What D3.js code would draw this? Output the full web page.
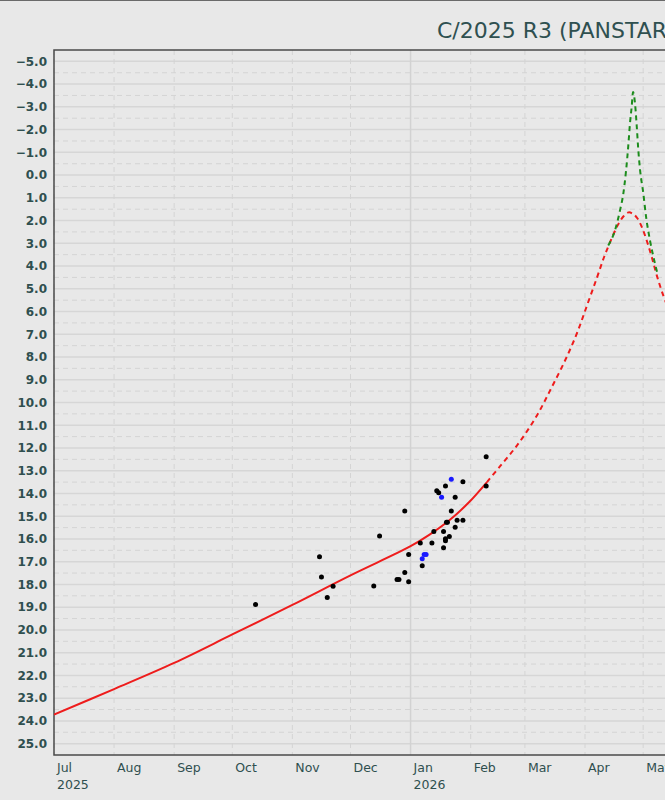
<!DOCTYPE html>
<html>
<head>
<meta charset="utf-8">
<script src="https://cdn.jsdelivr.net/npm/d3@7"></script>
<style>
  html, body { margin: 0; padding: 0; background: #e8e8e8; }
  svg { display: block; }
</style>
</head>
<body>
<script>
// ---------- DATA ----------
const title = "C/2025 R3 (PANSTARRS)";

const magTicks = [-5,-4,-3,-2,-1,0,1,2,3,4,5,6,7,8,9,10,11,12,13,14,15,16,17,18,19,20,21,22,23,24,25];
const magHalfTicks = [-4.5,-3.5,-2.5,-1.5,-0.5,0.5,1.5,2.5,3.5,4.5,5.5,6.5,7.5,8.5,9.5,10.5,11.5,12.5,13.5,14.5,15.5,16.5,17.5,18.5,19.5,20.5,21.5,22.5,23.5,24.5];
const monthTicks = ["2025-07-01","2025-08-01","2025-09-01","2025-10-01","2025-11-01","2025-12-01",
                    "2026-01-01","2026-02-01","2026-03-01","2026-04-01","2026-05-01","2026-06-01"];
const yearTicks = ["2025-07-01","2026-01-01"];

// predicted magnitude, observed period (solid red)
const predSolidDates = ["2025-07-01","2025-08-01","2025-09-01","2025-10-01","2025-11-01","2025-12-01",
  "2026-01-01","2026-01-11","2026-01-21","2026-01-31","2026-02-09T10"];
const predSolidMags = [23.72,22.6,21.45,20.2,18.9,17.6,16.32,15.8,15.18,14.4,13.5];

// predicted magnitude, future (dashed red)
const predFutureDates = ["2026-02-09T10","2026-02-16","2026-02-23","2026-03-01","2026-03-08","2026-03-15",
  "2026-03-22","2026-03-28","2026-04-02","2026-04-07","2026-04-11","2026-04-15","2026-04-18","2026-04-21",
  "2026-04-23T12","2026-04-26","2026-04-28","2026-04-30T12","2026-05-03","2026-05-05T12","2026-05-08",
  "2026-05-11","2026-05-15"];
const predFutureMags = [13.5,12.82,12.1,11.4,10.45,9.3,8.1,6.92,5.74,4.55,3.57,2.74,2.19,1.8,
  1.64,1.72,1.9,2.32,2.92,3.62,4.4,5.2,6.1];

// forward-scattering enhanced prediction (dashed green)
const fwdDates = ["2026-04-13","2026-04-16T12","2026-04-19T02","2026-04-20T19","2026-04-22T05","2026-04-23T07",
  "2026-04-24T05","2026-04-25T02","2026-04-25T19","2026-04-26T19","2026-04-27T17","2026-04-28T12",
  "2026-04-29T10","2026-05-01T02","2026-05-02T12","2026-05-04T12","2026-05-07T02","2026-05-08T07"];
const fwdMags = [3.1,2.42,1.54,0.8,-0.22,-1.25,-2.28,-3.01,-3.65,-3.16,-2.13,-1.1,-0.22,0.8,1.83,2.86,3.88,4.3];

// observations (black)
const obsDates = ["2025-10-13","2025-11-15","2025-11-16","2025-11-19","2025-11-22","2025-12-13","2025-12-16",
  "2025-12-25","2025-12-26","2025-12-29","2025-12-29","2025-12-31","2025-12-31","2026-01-06","2026-01-07",
  "2026-01-12","2026-01-13","2026-01-14T12","2026-01-15T12","2026-01-18","2026-01-18","2026-01-19","2026-01-19",
  "2026-01-19","2026-01-19T12","2026-01-20","2026-01-21","2026-01-22","2026-01-24","2026-01-24","2026-01-25",
  "2026-01-28","2026-01-28","2026-02-09","2026-02-09"];
const obsMags = [18.88,16.78,17.67,18.57,18.08,18.07,15.87,17.78,17.78,14.77,17.47,16.68,17.88,16.18,17.18,
  16.18,15.67,13.88,13.97,15.67,16.39,16.08,15.99,13.67,15.27,15.27,15.89,14.77,15.49,14.17,15.18,
  13.48,15.18,13.67,12.38];

// observations (blue)
const obsBlueDates = ["2026-01-22","2026-01-17","2026-01-08","2026-01-09","2026-01-07"];
const obsBlueMags = [13.38,14.17,16.68,16.68,16.87];

// ---------- RENDER ----------
const W = 665, H = 800;
const plotL = 54, plotT = 50, plotB = 755;
const pxPerDay = 1.938;

const parseD = s => s.length > 10 ? d3.utcParse("%Y-%m-%dT%H")(s) : d3.utcParse("%Y-%m-%d")(s);
const x0 = parseD("2025-07-01"), x1 = parseD("2026-07-01");
const nDays = (x1 - x0) / 864e5;
const x = d3.scaleUtc().domain([x0, x1]).range([plotL, plotL + nDays * pxPerDay]);
const y = d3.scaleLinear().domain([-5.5, 25.5]).range([plotT, plotB]);
const plotR = x.range()[1];

const svg = d3.select("body").append("svg").attr("width", W).attr("height", H)
  .style("font-family", "'DejaVu Sans', Verdana, sans-serif");

svg.append("rect").attr("width", W).attr("height", H).attr("fill", "#e8e8e8");
svg.append("line").attr("x1", 0).attr("x2", W).attr("y1", 0.5).attr("y2", 0.5)
  .attr("stroke", "#6a6a6a").attr("stroke-width", 1);

svg.append("defs").append("clipPath").attr("id", "clip")
  .append("rect").attr("x", plotL).attr("y", plotT).attr("width", plotR - plotL).attr("height", plotB - plotT);

const grid = svg.append("g");
grid.selectAll("line.hh").data(magHalfTicks).join("line")
  .attr("x1", plotL).attr("x2", plotR).attr("y1", d => y(d)).attr("y2", d => y(d))
  .attr("stroke", "#d4d4d4").attr("stroke-width", 1).attr("stroke-dasharray", "5,4");
grid.selectAll("line.hi").data(magTicks).join("line")
  .attr("x1", plotL).attr("x2", plotR).attr("y1", d => y(d)).attr("y2", d => y(d))
  .attr("stroke", "#d6d6d6").attr("stroke-width", 1.5);
grid.selectAll("line.v").data(monthTicks.map(parseD)).join("line")
  .attr("x1", d => x(d)).attr("x2", d => x(d)).attr("y1", plotT).attr("y2", plotB)
  .attr("stroke", d => d.getUTCMonth() === 0 ? "#d2d2d2" : "#d4d4d4")
  .attr("stroke-width", d => d.getUTCMonth() === 0 ? 1.5 : 1)
  .attr("stroke-dasharray", d => d.getUTCMonth() === 0 ? null : "5,4");

svg.append("rect").attr("x", plotL).attr("y", plotT).attr("width", plotR - plotL).attr("height", plotB - plotT)
  .attr("fill", "none").attr("stroke", "#4a4a4a").attr("stroke-width", 1.5);

svg.append("g").selectAll("text").data(magTicks).join("text")
  .attr("x", 47).attr("y", d => y(d)).attr("dy", "0.36em")
  .attr("text-anchor", "end").attr("fill", "#2f4f4f")
  .attr("font-size", 12).attr("font-weight", "bold")
  .text(d => d3.format(".1f")(d));

const fmtMonth = d3.utcFormat("%b");
svg.append("g").selectAll("text").data(monthTicks.map(parseD)).join("text")
  .attr("x", d => x(d) + 3).attr("y", 772)
  .attr("fill", "#2f4f4f").attr("font-size", 12.5)
  .text(d => fmtMonth(d));
svg.append("g").selectAll("text").data(yearTicks.map(parseD)).join("text")
  .attr("x", d => x(d) + 3).attr("y", 789)
  .attr("fill", "#2f4f4f").attr("font-size", 12.5)
  .text(d => d3.utcFormat("%Y")(d));

svg.append("text").attr("x", 437).attr("y", 38)
  .attr("fill", "#2f5050").attr("font-size", 22).text(title);

const plot = svg.append("g").attr("clip-path", "url(#clip)");
const lineSmooth = d3.line().x(d => x(d[0])).y(d => y(d[1])).curve(d3.curveCatmullRom.alpha(0.5));
const lineMono = d3.line().x(d => x(d[0])).y(d => y(d[1])).curve(d3.curveMonotoneX);
const zipS = (ds, ms) => ds.map((d, i) => [parseD(d), ms[i]]);

plot.append("path").datum(zipS(predSolidDates, predSolidMags))
  .attr("d", lineSmooth).attr("fill", "none").attr("stroke", "#ee1c1c").attr("stroke-width", 2);
plot.append("path").datum(zipS(predFutureDates, predFutureMags))
  .attr("d", lineSmooth).attr("fill", "none").attr("stroke", "#ee1c1c").attr("stroke-width", 2)
  .attr("stroke-dasharray", "5,4");
plot.append("path").datum(zipS(fwdDates, fwdMags))
  .attr("d", lineMono).attr("fill", "none").attr("stroke", "#1c8c1c").attr("stroke-width", 2)
  .attr("stroke-dasharray", "5,4");

plot.append("g").selectAll("circle").data(zipS(obsDates, obsMags)).join("circle")
  .attr("cx", d => x(d[0])).attr("cy", d => y(d[1])).attr("r", 2.5).attr("fill", "#000");
plot.append("g").selectAll("circle").data(zipS(obsBlueDates, obsBlueMags)).join("circle")
  .attr("cx", d => x(d[0])).attr("cy", d => y(d[1])).attr("r", 2.5).attr("fill", "#1a1aff");
</script>
</body>
</html>
